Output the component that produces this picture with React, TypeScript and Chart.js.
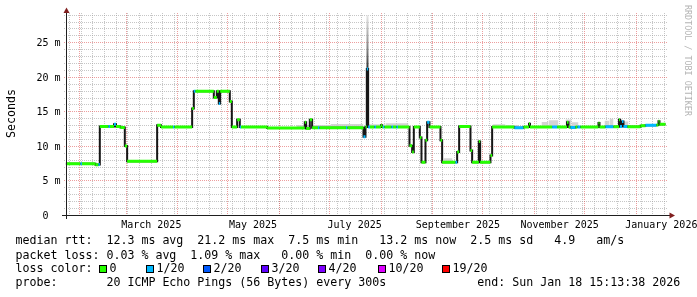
import React, { useEffect, useRef } from 'react';
import { Chart, registerables } from 'chart.js';

Chart.register(...registerables);

// x values: days since 2025-01-01 00:00 (day 0); graph covers the last 360 days
const START_DAY = 22.634; // Thu Jan 23 2025 15:13:38
const END_DAY = 382.634; // Sun Jan 18 2026 15:13:38
const Y_MAX = 29.17; // ms

// median rtt: step start day, value (ms), lost pings out of 20
const stepDays = [
  22.634, 31.5, 32.4, 40.5, 42.3, 43.1, 48.3, 49.2, 51.6, 52.8, 55.5, 58.1, 59.5, 77.5, 79.8, 87.0, 87.9,
  98.5, 99.5, 100.5, 111.5, 113.3, 114.5, 115.3, 121.1, 122.3, 125.5, 127.1, 127.8, 143.5, 166.1, 166.9,
  169.1, 170.5, 174.0, 174.9, 190.8, 191.7, 201.3, 202.5, 203.3, 204.1, 205.2, 207.9, 208.8, 211.8, 212.4,
  213.0, 213.9, 218.1, 219.0, 221.1, 222.0, 228.9, 230.5, 231.5, 235.1, 236.1, 238.5, 239.5, 240.9, 247.5,
  248.5, 256.5, 257.5, 258.7, 265.5, 266.5, 270.5, 271.3, 277.5, 278.5, 291.9, 297.3, 300.6, 301.2, 314.5,
  317.5, 323.4, 324.3, 325.5, 328.5, 329.7, 331.5, 342.3, 342.9, 346.5, 351.3, 354.6, 355.2, 356.4, 357.3,
  359.7, 367.5, 370.5, 377.1, 378.3, 378.9,
];
const stepMs = [
  7.48, 7.48, 7.48, 7.35, 7.4, 12.88, 12.88, 12.88, 13.2, 12.88, 12.75, 10.05, 7.86, 13.05, 12.8, 12.8, 12.8,
  15.5, 18.0, 18.0, 17.1, 18.0, 16.2, 18.0, 16.5, 12.8, 13.85, 12.8, 12.8, 12.68, 13.5, 12.6,
  13.85, 12.7, 12.7, 12.7, 12.7, 12.7, 11.4, 12.8, 21.2, 12.8, 12.8, 12.8, 12.8, 13.05, 12.8,
  12.8, 12.8, 12.8, 12.8, 12.8, 12.8, 10.1, 9.2, 12.8, 11.3, 7.7, 10.9, 13.5, 12.8, 10.9,
  7.7, 7.7, 9.2, 12.9, 9.4, 7.7, 10.7, 7.7, 8.7, 12.8, 12.7, 12.8, 13.3, 12.8, 12.8,
  12.8, 13.5, 12.8, 12.75, 12.8, 12.8, 12.8, 13.4, 12.8, 12.85, 12.85, 13.85, 12.9, 13.6, 12.9,
  12.85, 13.0, 13.05, 13.1, 13.65, 13.2,
];
const stepLoss = [
  0, 1, 0, 0, 1, 0, 1, 0, 1, 0, 0, 0, 0, 0, 0, 1, 0,
  0, 1, 0, 0, 0, 1, 0, 0, 0, 0, 1, 0, 0, 0, 0,
  0, 0, 1, 0, 1, 0, 1, 0, 1, 1, 0, 1, 0, 0, 0,
  1, 0, 1, 0, 1, 0, 0, 0, 0, 0, 0, 0, 1, 0, 0,
  0, 1, 0, 0, 0, 0, 0, 0, 0, 0, 1, 0, 0, 0, 1,
  0, 0, 0, 1, 0, 1, 0, 0, 0, 1, 0, 0, 1, 1, 1,
  0, 0, 1, 0, 0, 0,
];

// light smoke above the median
const smokeFrom = [161.1, 181.5, 204.6, 214.5, 249.3, 278.7, 286.5, 308.1, 312.3, 322.5, 326.1, 345.9, 348.9, 353.7, 356.7];
const smokeTo = [181.5, 201.3, 214.5, 228.3, 254.7, 286.5, 294.3, 312.3, 318.3, 326.1, 330.3, 348.9, 351.3, 356.7, 360.3];
const smokeLow = [12.7, 12.7, 12.8, 12.8, 7.7, 12.8, 12.8, 12.8, 12.8, 12.8, 12.8, 12.85, 12.85, 12.9, 12.9];
const smokeHigh = [13.1, 13.25, 13.2, 13.35, 8.3, 13.2, 13.1, 13.55, 13.8, 13.9, 13.5, 13.7, 14.0, 14.0, 13.6];

// the July spike smoke
const spikeDay = 203.7;
const spikeLow = 21.2;
const spikeHigh = 29.0;

const yTickValues = [0, 5, 10, 15, 20, 25];
const yTickLabels = ['0', '5 m', '10 m', '15 m', '20 m', '25 m'];
const monthStartDays = [31, 59, 90, 120, 151, 181, 212, 243, 273, 304, 334, 365];
const monthLabelDays = [74, 135, 196, 258, 319, 380];
const monthLabels = ['March 2025', 'May 2025', 'July 2025', 'September 2025', 'November 2025', 'January 2026'];
const firstSunday = 25;

const lossColors = ['#26ff00', '#00b8ff', '#0059ff', '#5e00ff', '#7e00ff', '#dd00ff', '#ff0000'];
const lossLabels = ['0', '1/20', '2/20', '3/20', '4/20', '10/20', '19/20'];

// legend text: pieces and the character column each starts at
const statsRtt = ['median rtt:', '12.3 ms avg', '21.2 ms max', '7.5 ms min', '13.2 ms now', '2.5 ms sd', '4.9', 'am/s'];
const statsRttCols = [0, 13, 26, 39, 52, 65, 77, 83];
const statsLoss = ['packet loss:', '0.03 % avg', '1.09 % max', '0.00 % min', '0.00 % now'];
const statsLossCols = [0, 13, 25, 38, 50];
const probeText = ['probe:', '20 ICMP Echo Pings (56 Bytes) every 300s', 'end: Sun Jan 18 15:13:38 2026'];
const probeCols = [0, 13, 66];

const MONO = '"DejaVu Sans Mono", monospace';
const LEGEND_FONT = '11.63px ' + MONO;

const rrdPlugin = {
  id: 'rrdDecor',
  beforeDatasetsDraw(chart: any) {
    const { ctx, scales } = chart;
    const x = scales.x;
    const y = scales.y;
    const seg = (x1: number, y1: number, x2: number, y2: number) => {
      ctx.beginPath();
      ctx.moveTo(x1, y1);
      ctx.lineTo(x2, y2);
      ctx.stroke();
    };
    ctx.save();
    ctx.lineWidth = 1;
    ctx.setLineDash([1, 1]);
    ctx.strokeStyle = 'rgba(160,160,160,0.6)';
    for (let v = 1; v <= 29; v++) {
      if (v % 5 === 0) continue;
      const py = Math.floor(y.getPixelForValue(v)) + 0.5;
      seg(64, py, 668, py);
    }
    for (let d = firstSunday; d < END_DAY; d += 7) {
      const px = Math.floor(x.getPixelForValue(d)) + 0.5;
      seg(px, 13, px, 215);
    }
    ctx.strokeStyle = 'rgba(222,79,79,0.55)';
    for (const v of yTickValues) {
      if (v === 0) continue;
      const py = Math.floor(y.getPixelForValue(v)) + 0.5;
      seg(64, py, 668, py);
    }
    for (const d of monthStartDays) {
      const px = Math.floor(x.getPixelForValue(d)) + 0.5;
      seg(px, 13, px, 215);
    }
    ctx.restore();
  },
  afterDatasetsDraw(chart: any) {
    const { ctx, scales } = chart;
    const x = scales.x;
    const y = scales.y;
    ctx.save();
    // axes
    const ay = Math.floor(y.getPixelForValue(0)) + 0.5;
    const ax = Math.floor(x.getPixelForValue(START_DAY)) + 0.5 + 1;
    ctx.strokeStyle = '#1f1f1f';
    ctx.lineWidth = 1;
    ctx.beginPath();
    ctx.moveTo(62, ay);
    ctx.lineTo(670, ay);
    ctx.moveTo(ax, 219);
    ctx.lineTo(ax, 12);
    ctx.stroke();
    // arrows
    ctx.fillStyle = '#801f1f';
    ctx.beginPath();
    ctx.moveTo(ax, 7.5);
    ctx.lineTo(ax - 3, 13);
    ctx.lineTo(ax + 3, 13);
    ctx.closePath();
    ctx.fill();
    ctx.beginPath();
    ctx.moveTo(675, ay);
    ctx.lineTo(669.5, ay - 3);
    ctx.lineTo(669.5, ay + 3);
    ctx.closePath();
    ctx.fill();

    // tick labels
    ctx.fillStyle = '#000';
    ctx.font = '10px ' + MONO;
    ctx.textAlign = 'right';
    ctx.textBaseline = 'middle';
    yTickValues.forEach((v, i) => {
      const label = yTickLabels[i].length < 3 ? yTickLabels[i] + '  ' : yTickLabels[i];
      ctx.fillText(label, 60.5, Math.floor(y.getPixelForValue(v)) + 1);
    });
    ctx.textAlign = 'center';
    ctx.textBaseline = 'alphabetic';
    monthLabelDays.forEach((d, i) => {
      ctx.fillText(monthLabels[i], x.getPixelForValue(d), 228);
    });

    // axis title
    ctx.font = LEGEND_FONT;
    ctx.save();
    ctx.translate(15, 113.5);
    ctx.rotate(-Math.PI / 2);
    ctx.textAlign = 'center';
    ctx.fillText('Seconds', 0, 0);
    ctx.restore();

    // watermark
    ctx.save();
    ctx.font = '8.4px ' + MONO;
    ctx.fillStyle = '#b4b4b4';
    ctx.translate(685, 5);
    ctx.rotate(Math.PI / 2);
    ctx.textAlign = 'left';
    ctx.fillText('RRDTOOL / TOBI OETIKER', 0, 0);
    ctx.restore();

    // legend
    ctx.font = LEGEND_FONT;
    ctx.textAlign = 'left';
    ctx.fillStyle = '#000';
    const col0 = 15.4;
    const cw = ctx.measureText('0000000000').width / 10;
    statsRtt.forEach((t, i) => ctx.fillText(t, col0 + statsRttCols[i] * cw, 244.3));
    statsLoss.forEach((t, i) => ctx.fillText(t, col0 + statsLossCols[i] * cw, 258.5));
    ctx.fillText('loss color:', col0, 272.3);
    const boxX = [99, 146, 203, 261, 318, 378, 442];
    lossLabels.forEach((t, i) => {
      ctx.fillStyle = lossColors[i];
      ctx.fillRect(boxX[i] + 0.5, 265.5, 7, 7);
      ctx.strokeStyle = '#000';
      ctx.strokeRect(boxX[i] + 0.5, 265.5, 7, 7);
      ctx.fillStyle = '#000';
      ctx.fillText(t, boxX[i] + 10.5, 272.3);
    });
    probeText.forEach((t, i) => ctx.fillText(t, col0 + probeCols[i] * cw, 286.3));
    ctx.restore();
  },
};

export default function App() {
  const ref = useRef<HTMLCanvasElement | null>(null);
  useEffect(() => {
    document.body.style.margin = '0';
    const canvas = ref.current;
    if (!canvas) return;

    const medianPoints: any[] = [];
    const medianLoss: number[] = [];
    for (let i = 0; i < stepDays.length; i++) {
      const end = i + 1 < stepDays.length ? stepDays[i + 1] : END_DAY;
      medianPoints.push({ x: stepDays[i], y: stepMs[i] }, { x: end, y: stepMs[i] }, { x: end, y: null });
      medianLoss.push(stepLoss[i], stepLoss[i], stepLoss[i]);
    }
    const stepPoints = stepDays.map((d, i) => ({ x: d, y: stepMs[i] }));
    stepPoints.push({ x: END_DAY, y: stepMs[stepMs.length - 1] });

    const lowPts: any[] = [];
    const highPts: any[] = [];
    smokeFrom.forEach((f, i) => {
      lowPts.push({ x: f, y: smokeLow[i] }, { x: smokeTo[i], y: smokeLow[i] }, { x: smokeTo[i], y: null });
      highPts.push({ x: f, y: smokeHigh[i] }, { x: smokeTo[i], y: smokeHigh[i] }, { x: smokeTo[i], y: null });
    });

    const chart = new Chart(canvas, {
      type: 'line',
      data: {
        datasets: [
          {
            label: 'median',
            data: medianPoints,
            borderWidth: 3,
            borderCapStyle: 'butt',
            pointRadius: 0,
            spanGaps: false,
            borderColor: lossColors[0],
            segment: {
              borderColor: (c: any) => lossColors[medianLoss[c.p0DataIndex]] || lossColors[0],
            },
          },
          {
            label: 'transitions',
            data: stepPoints,
            stepped: true,
            borderWidth: 2,
            borderColor: '#161616',
            pointRadius: 0,
          },
          {
            label: 'spike',
            data: [
              { x: spikeDay, y: spikeLow },
              { x: spikeDay, y: spikeHigh },
            ],
            borderWidth: 2,
            pointRadius: 0,
            borderCapStyle: 'butt',
            borderColor: (c: any) => {
              const ch = c.chart;
              const ys = ch.scales && ch.scales.y;
              if (!ys || !ch.chartArea) return '#888';
              const g = ch.ctx.createLinearGradient(0, ys.getPixelForValue(spikeLow), 0, ys.getPixelForValue(spikeHigh));
              g.addColorStop(0, '#303030');
              g.addColorStop(0.35, '#808080');
              g.addColorStop(1, '#e6e6e6');
              return g;
            },
          },
          {
            label: 'smokeLow',
            data: lowPts,
            borderWidth: 0,
            pointRadius: 0,
            spanGaps: false,
            borderColor: 'rgba(0,0,0,0)',
          },
          {
            label: 'smokeHigh',
            data: highPts,
            borderWidth: 0,
            pointRadius: 0,
            spanGaps: false,
            borderColor: 'rgba(0,0,0,0)',
            backgroundColor: 'rgba(205,205,205,0.85)',
            fill: '-1',
          },
        ],
      } as any,
      options: {
        animation: false,
        responsive: false,
        devicePixelRatio: 1,
        events: [],
        layout: { padding: { left: 65.7, right: 31.3, top: 14, bottom: 81.5 } },
        scales: {
          x: { type: 'linear', min: START_DAY, max: END_DAY, display: false },
          y: { type: 'linear', min: 0, max: Y_MAX, display: false },
        },
        plugins: {
          legend: { display: false },
          tooltip: { enabled: false },
        },
      } as any,
      plugins: [rrdPlugin],
    });
    return () => chart.destroy();
  }, []);
  return <canvas ref={ref} width={697} height={297} style={{ display: 'block' }} />;
}
